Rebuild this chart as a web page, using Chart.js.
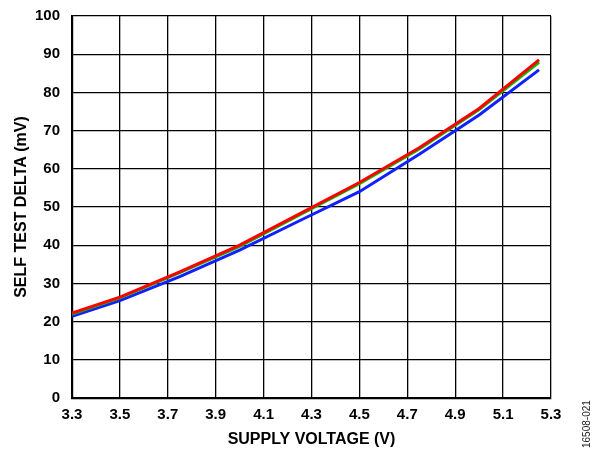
<!DOCTYPE html>
<html>
<head>
<meta charset="utf-8">
<script src="https://cdn.jsdelivr.net/npm/chart.js@4/dist/chart.umd.min.js"></script>
<style>
  html, body { margin: 0; padding: 0; background: #fff; }
  #wrap { width: 599px; height: 449px; position: relative; }
</style>
</head>
<body>
<div id="wrap"><canvas id="myChart"></canvas></div>
<script>
(function() {

    // supply voltage (V)
    const voltage = [3.3, 3.5, 3.75, 4.0, 4.25, 4.5, 4.75, 5.0, 5.25];
    // self test delta (mV), three parts
    const redSeries   = [22.2, 26.4, 33.0, 40.0, 48.2, 56.4, 65.5, 75.8, 88.5];
    const greenSeries = [22.0, 26.2, 32.8, 39.7, 47.9, 56.1, 65.2, 75.5, 87.9];
    const blueSeries  = [21.4, 25.5, 31.8, 38.7, 46.4, 54.0, 63.8, 74.1, 85.9];

    const xTicks = { min: 3.3, max: 5.3, step: 0.2 };
    const yTicks = { min: 0, max: 100, step: 10 };

    const pts = (ys) => voltage.map((v, i) => ({ x: v, y: ys[i] }));
    const family = "'Liberation Sans', Arial, sans-serif";
    const tickFont = { family: family, size: 15, weight: 'bold' };
    const titleFont = { family: family, size: 16, weight: 'bold' };

    const line = (ys, color) => ({
        data: pts(ys),
        borderColor: color,
        borderWidth: 3,
        pointRadius: 0,
        tension: 0,
        fill: false
    });

    const figId = {
        id: 'figId',
        afterDraw(chart) {
            const ctx = chart.ctx;
            ctx.save();
            ctx.translate(587, 448);
            ctx.rotate(-Math.PI / 2);
            ctx.font = "10px " + family;
            ctx.fillStyle = '#222';
            ctx.textAlign = 'left';
            ctx.textBaseline = 'middle';
            ctx.fillText('16508-021', 0, 0);
            ctx.restore();
        }
    };

    new Chart(document.getElementById('myChart'), {
        type: 'line',
        data: {
            datasets: [
                line(redSeries, '#ff0000'),
                line(greenSeries, '#00c000'),
                line(blueSeries, '#1020ff')
            ]
        },
        options: {
            responsive: true,
            maintainAspectRatio: false,
            devicePixelRatio: 1,
            animation: false,
            events: [],
            layout: { padding: { left: 0, right: 48, top: 16, bottom: 0 } },
            plugins: { legend: { display: false }, tooltip: { enabled: false } },
            scales: {
                x: {
                    type: 'linear',
                    min: xTicks.min,
                    max: xTicks.max,
                    afterFit(scale) {
                        scale.height = 51;
                        scale.paddingLeft = 0;
                        scale.paddingRight = 0;
                    },
                    ticks: {
                        stepSize: xTicks.step,
                        padding: 8,
                        maxRotation: 0,
                        color: '#000',
                        font: tickFont,
                        callback: (v) => v.toFixed(1)
                    },
                    grid: { color: '#000', lineWidth: 1.3, drawTicks: false },
                    border: { color: '#000', width: 2.2 },
                    title: {
                        display: true,
                        text: 'SUPPLY VOLTAGE (V)',
                        color: '#000',
                        font: titleFont,
                        padding: { top: 0, bottom: 0 }
                    }
                },
                y: {
                    min: yTicks.min,
                    max: yTicks.max,
                    afterFit(scale) {
                        scale.width = 72;
                        scale.paddingTop = 0;
                        scale.paddingBottom = 0;
                    },
                    ticks: {
                        stepSize: yTicks.step,
                        padding: 12,
                        color: '#000',
                        font: tickFont
                    },
                    grid: { color: '#000', lineWidth: 1.3, drawTicks: false },
                    border: { color: '#000', width: 2.2 },
                    title: {
                        display: true,
                        text: 'SELF TEST DELTA (mV)',
                        color: '#000',
                        font: titleFont,
                        padding: { top: 12, bottom: 0 }
                    }
                }
            }
        },
        plugins: [figId]
    });
})();
</script>
</body>
</html>
